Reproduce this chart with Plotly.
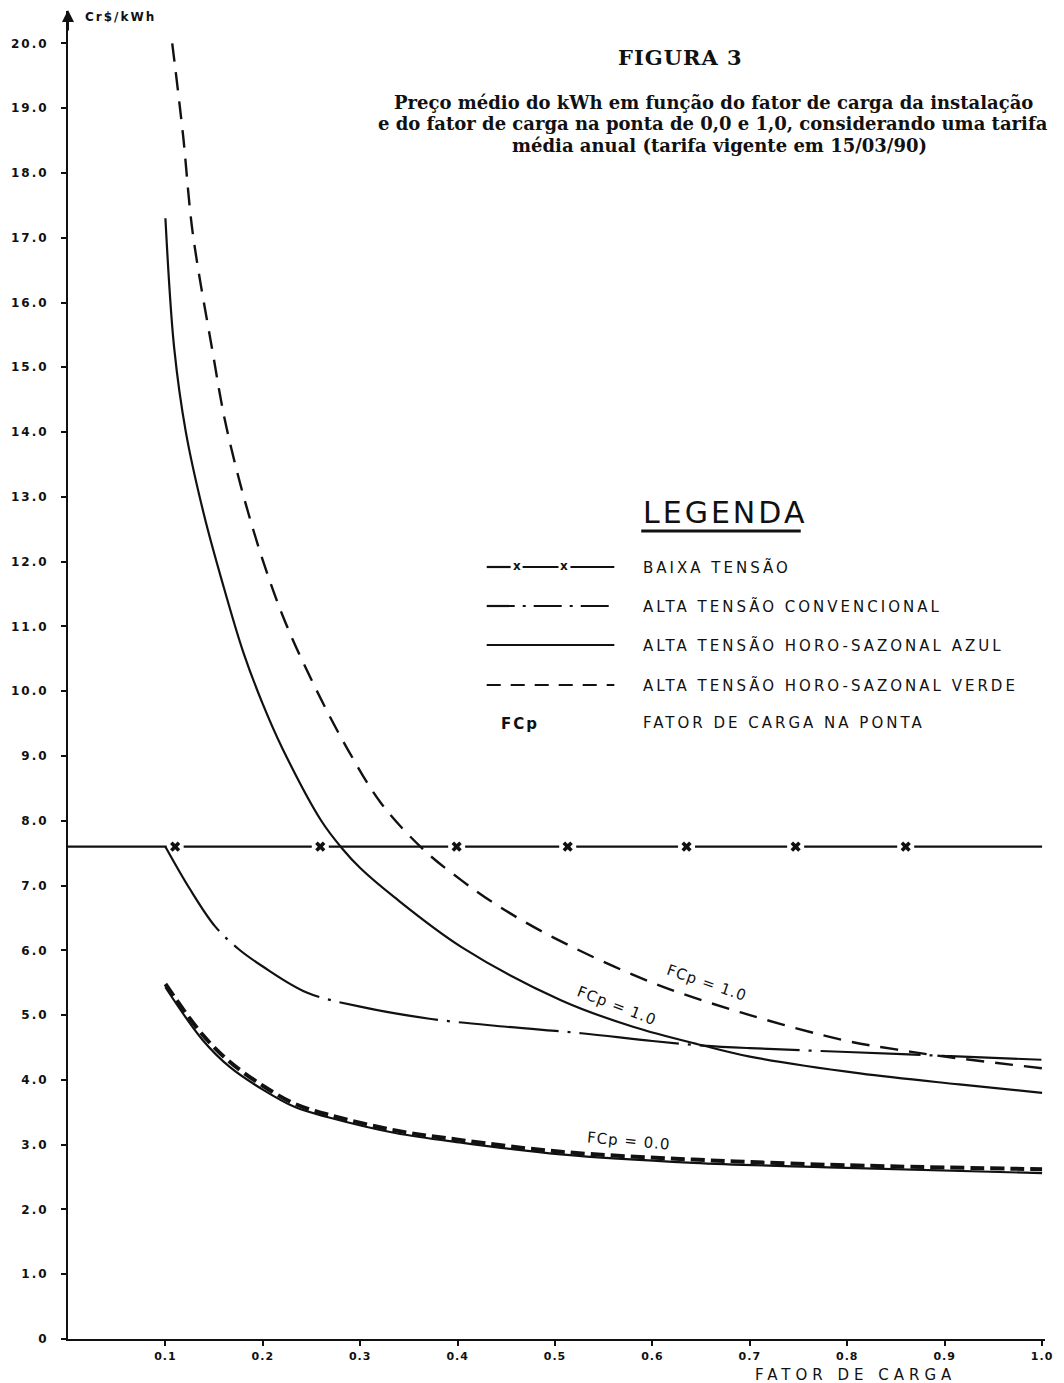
import plotly.graph_objects as go

# ---------------- data ----------------
baixa_x = [0.0, 1.0]
baixa_y = [7.6, 7.6]
baixa_marks_x = [0.110, 0.259, 0.399, 0.513, 0.635, 0.747, 0.860]
baixa_marks_y = [7.6, 7.6, 7.6, 7.6, 7.6, 7.6, 7.6]

conv_x = [0.100, 0.125, 0.151, 0.175, 0.200, 0.245, 0.300, 0.373, 0.450, 0.527, 0.600, 0.652, 0.700, 0.800, 0.900, 1.000]
conv_y = [7.60, 6.95, 6.37, 6.02, 5.75, 5.35, 5.13, 4.94, 4.82, 4.72, 4.60, 4.53, 4.49, 4.43, 4.37, 4.31]

azul1_x = [0.100, 0.109, 0.121, 0.140, 0.160, 0.180, 0.200, 0.220, 0.260, 0.281, 0.300, 0.335, 0.404, 0.506, 0.580, 0.652, 0.700, 0.813, 0.915, 1.000]
azul1_y = [17.30, 15.30, 14.00, 12.70, 11.60, 10.60, 9.80, 9.12, 8.00, 7.58, 7.27, 6.82, 6.05, 5.23, 4.82, 4.53, 4.36, 4.10, 3.93, 3.80]

verde1_x = [0.107, 0.118, 0.128, 0.148, 0.163, 0.190, 0.220, 0.254, 0.288, 0.322, 0.366, 0.404, 0.438, 0.498, 0.600, 0.700, 0.800, 0.850, 0.900, 1.000]
verde1_y = [20.00, 18.60, 17.08, 15.28, 14.05, 12.50, 11.18, 10.05, 9.08, 8.26, 7.54, 7.08, 6.72, 6.20, 5.50, 5.00, 4.60, 4.47, 4.36, 4.18]

azul0_x = [0.100, 0.138, 0.166, 0.200, 0.233, 0.268, 0.336, 0.404, 0.506, 0.642, 0.780, 1.000]
azul0_y = [5.43, 4.62, 4.20, 3.85, 3.58, 3.42, 3.18, 3.03, 2.85, 2.72, 2.65, 2.56]

verde0_x = [0.100, 0.138, 0.166, 0.200, 0.233, 0.268, 0.336, 0.404, 0.506, 0.642, 0.780, 1.000]
verde0_y = [5.48, 4.70, 4.28, 3.91, 3.63, 3.46, 3.22, 3.07, 2.89, 2.77, 2.69, 2.62]

y_ticks = [i for i in range(0, 21)]
y_tick_text = ["0"] + [f"{i}.0" for i in range(1, 21)]
x_ticks = [0.1, 0.2, 0.3, 0.4, 0.5, 0.6, 0.7, 0.8, 0.9, 1.0]
x_tick_text = ["0.1", "0.2", "0.3", "0.4", "0.5", "0.6", "0.7", "0.8", "0.9", "1.0"]

# ---------------- layout geometry ----------------
OFF = 8                      # default page margin of the html body
W, H = 1064 - OFF, 1383 - OFF
ML, MR, MT, MB = 65 - OFF, 19, 11 - OFF, 44
XMAX, YMAX = 1.003, 20.5
PW, PH = W - ML - MR, H - MT - MB


def px(xr, yr):
    """reference-picture pixel position -> paper coordinates (for text placement)"""
    xp, yp = xr - OFF, yr - OFF
    return (xp - ML) / PW, (H - MB - yp) / PH


def sp(s, ls):
    return f'<span style="letter-spacing:{ls}px">{s}</span>'


BLACK = "#111111"
fig = go.Figure()

# Baixa tensão
fig.add_trace(go.Scatter(x=baixa_x, y=baixa_y, mode="lines",
                         line=dict(color=BLACK, width=2.2), hoverinfo="skip"))
fig.add_trace(go.Scatter(x=baixa_marks_x, y=baixa_marks_y, mode="markers",
                         marker=dict(symbol="square", size=17, color="white",
                                     line=dict(width=0)), hoverinfo="skip"))
fig.add_trace(go.Scatter(x=baixa_marks_x, y=baixa_marks_y, mode="markers",
                         marker=dict(symbol="x", size=9, color=BLACK,
                                     line=dict(width=0)), hoverinfo="skip"))
# Alta tensão convencional
fig.add_trace(go.Scatter(x=conv_x, y=conv_y, mode="lines", line_shape="spline",
                         line=dict(color=BLACK, width=2.2, dash="100px,9px,3px,9px"),
                         hoverinfo="skip"))
# Azul FCp=1.0
fig.add_trace(go.Scatter(x=azul1_x, y=azul1_y, mode="lines", line_shape="spline",
                         line=dict(color=BLACK, width=2.2), hoverinfo="skip"))
# Verde FCp=1.0
fig.add_trace(go.Scatter(x=verde1_x, y=verde1_y, mode="lines", line_shape="spline",
                         line=dict(color=BLACK, width=2.4, dash="18px,11px"),
                         hoverinfo="skip"))
# Azul FCp=0.0
fig.add_trace(go.Scatter(x=azul0_x, y=azul0_y, mode="lines", line_shape="spline",
                         line=dict(color=BLACK, width=2.2), hoverinfo="skip"))
# Verde FCp=0.0
fig.add_trace(go.Scatter(x=verde0_x, y=verde0_y, mode="lines", line_shape="spline",
                         line=dict(color=BLACK, width=4, dash="14px,6px"),
                         hoverinfo="skip"))

ann = []
shapes = []


def text(xr, yr, s, size=14, family="DejaVu Sans", xanchor="center", angle=0, bold=False, ls=0):
    xx, yy = px(xr, yr)
    if ls:
        s = sp(s, ls)
    if bold:
        s = f"<b>{s}</b>"
    ann.append(dict(x=xx, y=yy, xref="paper", yref="paper", text=s, showarrow=False,
                    xanchor=xanchor, yanchor="middle", textangle=angle,
                    font=dict(family=family, size=size, color=BLACK)))


# Titles
text(679, 58, "FIGURA 3", size=21, family="DejaVu Serif", bold=True, ls=1)
text(712, 103, "Preço médio do kWh em função do fator de carga da instalação", size=18, family="DejaVu Serif", bold=True)
text(712, 124, "e do fator de carga na ponta de 0,0 e 1,0, considerando uma tarifa", size=18, family="DejaVu Serif", bold=True)
text(719, 145, "média anual (tarifa vigente em 15/03/90)", size=18, family="DejaVu Serif", bold=True)

# Axis label for y
text(80, 17, "Cr$/kWh", size=12, xanchor="left", bold=True, ls=2)
# x axis title
text(855, 1375, "FATOR DE CARGA", size=15, ls=5)

# Legend
text(640, 512, "LEGENDA", size=30, xanchor="left", ls=3)
x0, y0 = px(640, 531)
x1, _ = px(800, 531)
shapes.append(dict(type="line", xref="paper", yref="paper", x0=x0, x1=x1, y0=y0, y1=y0,
                   line=dict(color=BLACK, width=3)))

legend_rows = [567, 606, 645, 685, 723]
legend_labels = ["BAIXA TENSÃO", "ALTA TENSÃO CONVENCIONAL", "ALTA TENSÃO HORO-SAZONAL AZUL",
                 "ALTA TENSÃO HORO-SAZONAL VERDE", "FATOR DE CARGA NA PONTA"]
for yr, lab in zip(legend_rows, legend_labels):
    text(640, yr, lab, size=15, xanchor="left", ls=3)


def seg(xa, xb, yr, dash="solid", width=2.2):
    a, yy = px(xa, yr)
    b, _ = px(xb, yr)
    shapes.append(dict(type="line", xref="paper", yref="paper", x0=a, x1=b, y0=yy, y1=yy,
                       line=dict(color=BLACK, width=width, dash=dash)))


# baixa sample
seg(485, 509, 567)
seg(521, 557, 567)
seg(569, 613, 567)
text(515, 566, "x", size=12, bold=True)
text(563, 566, "x", size=12, bold=True)
# convencional sample
seg(485, 613, 606, dash="28px,8px,3px,8px")
# azul sample
seg(485, 613, 645)
# verde sample
seg(485, 613, 685, dash="14px,10px")
# FCp
text(518, 724, "FCp", size=15, bold=True, ls=2)

# curve labels
text(706, 983, "FCp = 1.0", size=15, angle=19, ls=1)
text(616, 1006, "FCp = 1.0", size=15, angle=21, ls=1)
text(628, 1141, "FCp = 0.0", size=15, angle=5, ls=1)

# y-axis arrow
ax_, ay_ = px(65, 10)
ann.append(dict(x=ax_, y=ay_, xref="paper", yref="paper", ax=0, ay=22, text="",
                showarrow=True, arrowhead=2, arrowsize=1.2, arrowwidth=2, arrowcolor=BLACK))

fig.update_layout(
    width=W, height=H,
    margin=dict(l=ML, r=MR, t=MT, b=MB),
    paper_bgcolor="white", plot_bgcolor="white",
    showlegend=False,
    annotations=ann, shapes=shapes,
    xaxis=dict(range=[0, XMAX], tickvals=x_ticks, ticktext=[sp(t, 1) for t in x_tick_text],
               showgrid=False, zeroline=False, showline=True, linecolor=BLACK, linewidth=2,
               ticks="outside", ticklen=5, tickwidth=1.5, tickcolor=BLACK,
               ticklabelstandoff=1,
               tickfont=dict(family="DejaVu Sans", size=11, color=BLACK, weight="bold")),
    yaxis=dict(range=[0, YMAX], tickvals=y_ticks, ticktext=[sp(t, 2) for t in y_tick_text],
               showgrid=False, zeroline=False, showline=True, linecolor=BLACK, linewidth=2,
               ticks="outside", ticklen=5, tickwidth=1.5, tickcolor=BLACK,
               ticklabelstandoff=10,
               tickfont=dict(family="DejaVu Sans", size=12, color=BLACK, weight="bold")),
)

fig.write_html("out.html")
